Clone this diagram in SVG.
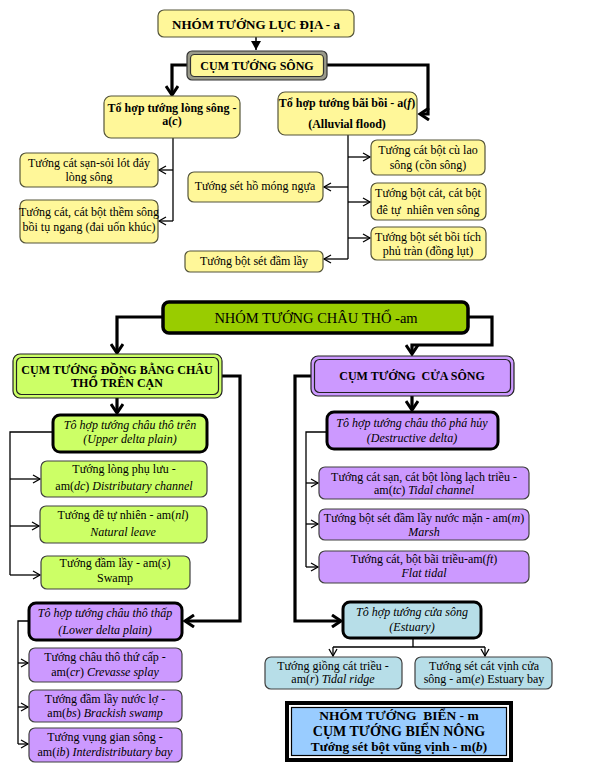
<svg xmlns="http://www.w3.org/2000/svg" width="599" height="784" viewBox="0 0 599 784">
<style>
text{font-family:"Liberation Serif","Times New Roman",serif;font-size:12px;fill:#000;text-anchor:middle}
.b{font-weight:bold}
.i{font-style:italic}
.yl{fill:#FFF799;stroke:#55553a;stroke-width:1.2}
.gr{fill:#CCFF66;stroke:#404040;stroke-width:1.2}
.pu{fill:#CC99FF;stroke:#404040;stroke-width:1.2}
.te{fill:#B7DEE8;stroke:#404040;stroke-width:1.2}
.thin{fill:none;stroke:#000;stroke-width:1.3}
.th3{fill:none;stroke:#000;stroke-width:3.2}
</style>
<defs>
<marker id="op" markerUnits="userSpaceOnUse" markerWidth="10" markerHeight="10" refX="8" refY="5" orient="auto">
<path d="M1,1 L8,5 L1,9" fill="none" stroke="#000" stroke-width="1.3"/>
</marker>
<marker id="tk" markerUnits="userSpaceOnUse" markerWidth="14" markerHeight="14" refX="11" refY="7" orient="auto">
<path d="M2,1 L11,7 L2,13" fill="none" stroke="#000" stroke-width="3"/>
</marker>
<marker id="tr" markerUnits="userSpaceOnUse" markerWidth="10" markerHeight="10" refX="9" refY="5" orient="auto">
<path d="M0,0 L9,5 L0,10 Z" fill="#000"/>
</marker>
</defs>

<g id="connectors">
<path class="thin" d="M256,37 V50" marker-end="url(#tr)" style="stroke-width:1.5"/>
<path class="th3" d="M187,65 H172 V95" marker-end="url(#tk)"/>
<path class="th3" d="M327,65 H428 V114 H420" marker-end="url(#tk)"/>
<path class="thin" d="M173,138 V221"/>
<path class="thin" d="M173,170 H159" marker-end="url(#op)"/>
<path class="thin" d="M173,221 H159" marker-end="url(#op)"/>
<path class="thin" d="M348,135 V259"/>
<path class="thin" d="M348,157 H370" marker-end="url(#op)"/>
<path class="thin" d="M348,187 H324" marker-end="url(#op)"/>
<path class="thin" d="M348,202 H370" marker-end="url(#op)"/>
<path class="thin" d="M348,238 H370" marker-end="url(#op)"/>
<path class="thin" d="M348,259 H324" marker-end="url(#op)"/>
<path class="th3" d="M163,317 H117 V353" marker-end="url(#tk)"/>
<path class="th3" d="M469,317 H492 V345 H412 V354" marker-end="url(#tk)"/>
<path class="th3" d="M117,398 V413" marker-end="url(#tk)"/>
<path class="thin" d="M53,432 H10 V575"/>
<path class="thin" d="M10,479 H40" marker-end="url(#op)"/>
<path class="thin" d="M10,526 H39" marker-end="url(#op)"/>
<path class="thin" d="M10,575 H40" marker-end="url(#op)"/>
<path class="th3" d="M222,376 H240 V621 H185" marker-end="url(#tk)"/>
<path class="thin" d="M29,621 H18 V744"/>
<path class="thin" d="M18,663 H28" marker-end="url(#op)"/>
<path class="thin" d="M18,707 H28" marker-end="url(#op)"/>
<path class="thin" d="M18,744 H28" marker-end="url(#op)"/>
<path class="th3" d="M412,396 V410" marker-end="url(#tk)"/>
<path class="th3" d="M311,376 H295 V621 H341" marker-end="url(#tk)"/>
<path class="thin" d="M327,432 H306 V567"/>
<path class="thin" d="M306,483 H318" marker-end="url(#op)"/>
<path class="thin" d="M306,524 H318" marker-end="url(#op)"/>
<path class="thin" d="M306,567 H318" marker-end="url(#op)"/>
<path class="thin" d="M413,638 V647 M333,647 H485"/>
<path class="thin" d="M333,647 V656" marker-end="url(#op)"/>
<path class="thin" d="M485,647 V656" marker-end="url(#op)"/>
</g>

<g id="n-luc-dia">
<rect class="yl" x="158" y="10" width="196" height="27" rx="6"/>
<text class="b" x="256" y="29" style="font-size:13px">NHÓM TƯỚNG LỤC ĐỊA - a</text>
</g>
<g id="n-cum-song">
<rect x="187" y="51" width="140" height="29" rx="5" fill="#9a9a8a" stroke="#333" stroke-width="1.2"/>
<rect class="yl" x="190.5" y="54.5" width="133" height="22" rx="4" style="stroke:#333"/>
<text class="b" x="257" y="70">CỤM TƯỚNG SÔNG</text>
</g>
<g id="n-long-song">
<rect class="yl" x="104" y="96" width="136" height="42" rx="7"/>
<text class="b" x="172" y="112">Tổ hợp tướng lòng sông -</text>
<text class="b" x="172" y="125">a(<tspan class="i">c</tspan>)</text>
</g>
<g id="n-bai-boi">
<rect class="yl" x="278" y="92" width="139" height="43" rx="7"/>
<text class="b" x="347" y="107">Tổ hợp tướng bãi bồi - a(<tspan class="i">f</tspan>)</text>
<text class="b" x="347" y="128">(Alluvial flood)</text>
</g>
<g id="n-cat-san">
<rect class="yl" x="20" y="153" width="138" height="34" rx="6"/>
<text x="89" y="167">Tướng cát sạn-sỏi lót đáy</text>
<text x="89" y="181">lòng sông</text>
</g>
<g id="n-them-song">
<rect class="yl" x="20" y="200" width="138" height="43" rx="6"/>
<text x="89" y="216">Tướng cát, cát bột thềm sông</text>
<text x="89" y="231">bồi tụ ngang (đai uốn khúc)</text>
</g>
<g id="n-mong-ngua">
<rect class="yl" x="188" y="172" width="135" height="30" rx="6"/>
<text x="255" y="190">Tướng sét hồ móng ngựa</text>
</g>
<g id="n-dam-lay-a">
<rect class="yl" x="185" y="251" width="138" height="21" rx="5"/>
<text x="254" y="265">Tướng bột sét đầm lầy</text>
</g>
<g id="n-cu-lao">
<rect class="yl" x="371" y="140" width="114" height="35" rx="6"/>
<text x="428" y="154">Tướng cát bột cù lao</text>
<text x="428" y="169">sông (cồn sông)</text>
</g>
<g id="n-de-tu-nhien-a">
<rect class="yl" x="371" y="183" width="115" height="37" rx="6"/>
<text x="428" y="197">Tướng bột cát, cát bột</text>
<text x="428" y="214" xml:space="preserve">đê tự  nhiên ven sông</text>
</g>
<g id="n-phu-tran">
<rect class="yl" x="371" y="227" width="115" height="33" rx="6"/>
<text x="428" y="241">Tướng bột sét bồi tích</text>
<text x="428" y="255">phủ tràn (đồng lụt)</text>
</g>

<g id="n-chau-tho">
<rect x="163" y="302" width="305" height="31" rx="6" fill="#99CC00" stroke="#000" stroke-width="3.5"/>
<text x="316" y="323" style="font-size:14.5px">NHÓM TƯỚNG CHÂU THỔ -am</text>
</g>
<g id="n-dong-bang">
<rect x="13" y="354" width="209" height="44" rx="7" fill="#CCFF66" stroke="#222" stroke-width="1.2"/>
<rect x="16.5" y="357.5" width="202" height="37" rx="5" fill="none" stroke="#222" stroke-width="1.2"/>
<text class="b" x="117" y="374">CỤM TƯỚNG ĐỒNG BẰNG CHÂU</text>
<text class="b" x="117" y="387">THỔ TRÊN CẠN</text>
</g>
<g id="n-upper">
<rect x="53" y="415" width="154" height="37" rx="7" fill="#CCFF66" stroke="#000" stroke-width="3"/>
<text class="i" x="130" y="429">Tô hợp tướng châu thô trên</text>
<text class="i" x="130" y="443">(Upper delta plain)</text>
</g>
<g id="n-phu-luu">
<rect class="gr" x="41" y="461" width="166" height="36" rx="6"/>
<text x="124" y="473">Tướng lòng phụ lưu -</text>
<text x="124" y="490">am(<tspan class="i">dc</tspan>) <tspan class="i">Distributary channel</tspan></text>
</g>
<g id="n-de-tu-nhien">
<rect class="gr" x="40" y="506" width="167" height="37" rx="6"/>
<text x="123" y="519">Tướng đê tự nhiên - am(<tspan class="i">nl</tspan>)</text>
<text class="i" x="123" y="536">Natural leave</text>
</g>
<g id="n-swamp">
<rect class="gr" x="41" y="556" width="149" height="33" rx="6"/>
<text x="115" y="567">Tướng đầm lầy - am(<tspan class="i">s</tspan>)</text>
<text x="115" y="582">Swamp</text>
</g>
<g id="n-lower">
<rect x="29" y="603" width="153" height="37" rx="7" fill="#CC99FF" stroke="#000" stroke-width="3"/>
<text class="i" x="105" y="617">Tô hợp tướng châu thô thấp</text>
<text class="i" x="105" y="634">(Lower delta plain)</text>
</g>
<g id="n-crevasse">
<rect class="pu" x="29" y="648" width="153" height="34" rx="6"/>
<text x="105" y="661">Tướng châu thô thứ cấp -</text>
<text x="105" y="676">am(<tspan class="i">cr</tspan>) <tspan class="i">Crevasse splay</tspan></text>
</g>
<g id="n-brackish">
<rect class="pu" x="29" y="690" width="153" height="32" rx="6"/>
<text x="105" y="703">Tướng đầm lầy nước lợ -</text>
<text x="105" y="717">am(<tspan class="i">bs</tspan>) <tspan class="i">Brackish swamp</tspan></text>
</g>
<g id="n-interdistributary">
<rect class="pu" x="29" y="728" width="153" height="34" rx="6"/>
<text x="105" y="741">Tướng vụng gian sông -</text>
<text x="105" y="756">am(<tspan class="i">ib</tspan>) <tspan class="i">Interdistributary bay</tspan></text>
</g>
<g id="n-cua-song">
<rect x="311" y="356" width="203" height="40" rx="7" fill="#CC99FF" stroke="#222" stroke-width="1.2"/>
<rect x="314.5" y="359.5" width="196" height="33" rx="5" fill="none" stroke="#222" stroke-width="1.2"/>
<text class="b" x="412" y="380" xml:space="preserve">CỤM TƯỚNG  CỬA SÔNG</text>
</g>
<g id="n-destructive">
<rect x="327" y="412" width="171" height="37" rx="7" fill="#CC99FF" stroke="#000" stroke-width="3"/>
<text class="i" x="412" y="427">Tô hợp tướng châu thô phá hủy</text>
<text class="i" x="412" y="442">(Destructive delta)</text>
</g>
<g id="n-tidal-channel">
<rect class="pu" x="319" y="467" width="210" height="32" rx="6"/>
<text x="424" y="481">Tướng cát sạn, cát bột lòng lạch triều -</text>
<text x="424" y="494">am(<tspan class="i">tc</tspan>) <tspan class="i">Tidal channel</tspan></text>
</g>
<g id="n-marsh">
<rect class="pu" x="319" y="509" width="210" height="31" rx="6"/>
<text x="424" y="522">Tướng bột sét đầm lầy nước mặn - am(<tspan class="i">m</tspan>)</text>
<text class="i" x="424" y="536">Marsh</text>
</g>
<g id="n-flat-tidal">
<rect class="pu" x="319" y="551" width="210" height="32" rx="6"/>
<text x="424" y="563">Tướng cát, bột bãi triều-am(<tspan class="i">ft</tspan>)</text>
<text class="i" x="424" y="577">Flat tidal</text>
</g>
<g id="n-estuary">
<rect x="343" y="602" width="138" height="36" rx="7" fill="#B7DEE8" stroke="#000" stroke-width="3"/>
<text class="i" x="412" y="616">Tô hợp tướng cửa sông</text>
<text class="i" x="412" y="631">(Estuary)</text>
</g>
<g id="n-tidal-ridge">
<rect class="te" x="265" y="657" width="137" height="32" rx="6"/>
<text x="333" y="670">Tướng giồng cát triều -</text>
<text x="333" y="683">am(<tspan class="i">r</tspan>) <tspan class="i">Tidal ridge</tspan></text>
</g>
<g id="n-estuary-bay">
<rect class="te" x="415" y="657" width="137" height="32" rx="6"/>
<text x="484" y="670">Tướng sét cát vịnh cửa</text>
<text x="484" y="683">sông - am(<tspan class="i">e</tspan>) Estuary bay</text>
</g>
<g id="n-bien">
<rect x="287" y="703" width="224" height="57" fill="#fff" stroke="#000" stroke-width="4"/>
<rect x="291.5" y="707.5" width="215" height="48" fill="#99CCFF" stroke="#000" stroke-width="1.2"/>
<text class="b" x="399" y="720" style="font-size:13.5px" xml:space="preserve">NHÓM TƯỚNG  BIỂN - m</text>
<text class="b" x="399" y="736" style="font-size:14px">CỤM TƯỚNG BIỂN NÔNG</text>
<text class="b" x="399" y="751" style="font-size:13.3px">Tướng sét bột vũng vịnh - m(<tspan class="i">b</tspan>)</text>
</g>
</svg>
